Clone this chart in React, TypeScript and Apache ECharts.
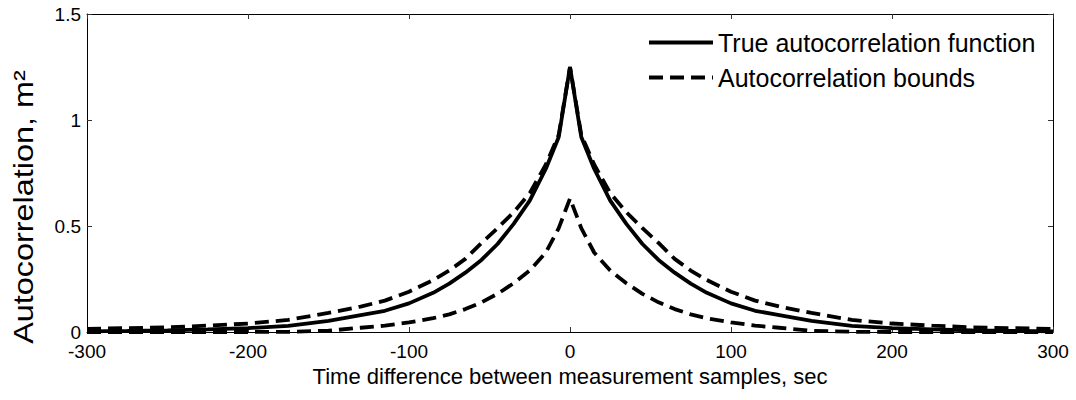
import React, { useEffect, useRef } from "react";
import * as echarts from "echarts";

const lags = [-300, -275, -250, -225, -200, -175, -150, -130, -115, -100, -85, -75, -65, -55, -45, -35, -25, -15, -7, 0, 7, 15, 25, 35, 45, 55, 65, 75, 85, 100, 115, 130, 150, 175, 200, 225, 250, 275, 300];
const trueAc = [0.003, 0.005, 0.008, 0.012, 0.018, 0.029, 0.052, 0.08, 0.1, 0.135, 0.185, 0.228, 0.28, 0.34, 0.415, 0.51, 0.62, 0.77, 0.92, 1.25, 0.92, 0.77, 0.62, 0.51, 0.415, 0.34, 0.28, 0.228, 0.185, 0.135, 0.1, 0.08, 0.052, 0.029, 0.018, 0.012, 0.008, 0.005, 0.003];
const upperBound = [0.015, 0.018, 0.022, 0.03, 0.04, 0.057, 0.09, 0.12, 0.148, 0.19, 0.245, 0.29, 0.345, 0.42, 0.49, 0.565, 0.655, 0.79, 0.93, 1.25, 0.93, 0.79, 0.655, 0.565, 0.49, 0.42, 0.345, 0.29, 0.245, 0.19, 0.148, 0.12, 0.09, 0.057, 0.04, 0.03, 0.022, 0.018, 0.015];
const lowerBound = [0, 0, 0, 0, 0, 0.001, 0.006, 0.02, 0.03, 0.045, 0.065, 0.083, 0.108, 0.14, 0.18, 0.23, 0.29, 0.375, 0.49, 0.63, 0.49, 0.375, 0.29, 0.23, 0.18, 0.14, 0.108, 0.083, 0.065, 0.045, 0.03, 0.02, 0.006, 0.001, 0, 0, 0, 0, 0];

const FONT = "'Liberation Sans', Arial, Helvetica, sans-serif";
const NAME_TRUE = "True autocorrelation function";
const NAME_BOUNDS = "Autocorrelation bounds";

const pairs = (ys: number[]) => lags.map((x, i) => [x, ys[i]]);

export default function App() {
  const ref = useRef<HTMLDivElement>(null);
  useEffect(() => {
    document.body.style.margin = "0";
    if (!ref.current) return;
    const chart = echarts.init(ref.current, null, { renderer: "svg" });
    const dash = [14, 7];
    const axisCommon = {
      type: "value" as const,
      axisLine: { show: true, onZero: false, lineStyle: { color: "#000", width: 1 } },
      axisTick: { show: true, inside: true, length: 5, lineStyle: { color: "#333", width: 1 } },
      splitLine: { show: false },
    };
    chart.setOption({
      animation: false,
      backgroundColor: "#fff",
      grid: { left: 87, right: 23, top: 14, bottom: 68, containLabel: false },
      legend: {
        orient: "vertical",
        left: 642,
        top: 25,
        itemWidth: 64,
        itemHeight: 14,
        itemGap: 10,
        data: [NAME_TRUE, NAME_BOUNDS],
        itemStyle: { opacity: 0 },
        lineStyle: { width: 4 },
        textStyle: { fontSize: 25, fontFamily: FONT, color: "#000" },
      },
      xAxis: [
        {
          ...axisCommon,
          min: -300,
          max: 300,
          interval: 100,
          position: "bottom",
          axisLabel: { fontSize: 19, fontFamily: FONT, color: "#000", margin: 10 },
          name: "Time difference between measurement samples, sec",
          nameLocation: "middle",
          nameGap: 31,
          nameTextStyle: { fontSize: 22, fontFamily: FONT, color: "#000" },
        },
        {
          ...axisCommon,
          min: -300,
          max: 300,
          interval: 100,
          position: "top",
          axisLabel: { show: false },
        },
      ],
      yAxis: [
        {
          ...axisCommon,
          min: 0,
          max: 1.5,
          interval: 0.5,
          position: "left",
          axisLabel: { fontSize: 19, fontFamily: FONT, color: "#000", margin: 6 },
        },
        {
          ...axisCommon,
          min: 0,
          max: 1.5,
          interval: 0.5,
          position: "right",
          axisLabel: { show: false },
        },
      ],
      graphic: [
        {
          type: "text",
          x: 23,
          y: 207,
          rotation: Math.PI / 2,
          scaleX: 1.2,
          style: {
            text: "Autocorrelation, m²",
            fontSize: 27,
            fontFamily: FONT,
            fill: "#000",
            align: "center",
            verticalAlign: "middle",
          },
        },
      ],
      series: [
        {
          name: NAME_TRUE,
          type: "line",
          data: pairs(trueAc),
          symbol: "none",
          clip: true,
          lineStyle: { color: "#000", width: 3.8, type: "solid" },
          itemStyle: { color: "#000" },
          z: 3,
        },
        {
          name: NAME_BOUNDS,
          type: "line",
          data: pairs(upperBound),
          symbol: "none",
          clip: true,
          lineStyle: { color: "#000", width: 3.8, type: dash },
          itemStyle: { color: "#000" },
          z: 2,
        },
        {
          name: NAME_BOUNDS,
          type: "line",
          data: pairs(lowerBound),
          symbol: "none",
          clip: true,
          lineStyle: { color: "#000", width: 3.8, type: dash },
          itemStyle: { color: "#000" },
          z: 2,
        },
      ],
    });
    return () => chart.dispose();
  }, []);
  return <div ref={ref} style={{ width: 1076, height: 400 }} />;
}
